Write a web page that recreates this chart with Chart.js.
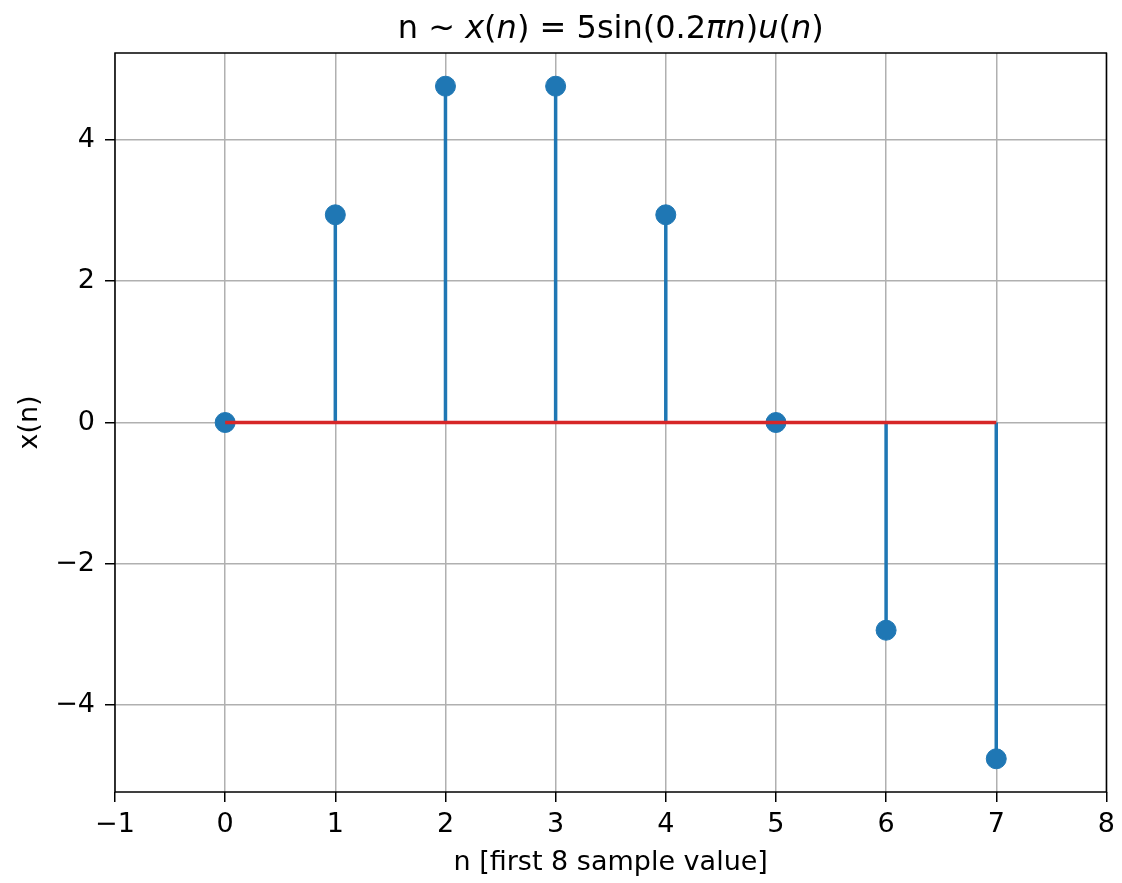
<!DOCTYPE html>
<html>
<head>
<meta charset="utf-8">
<script src="https://cdn.jsdelivr.net/npm/chart.js@4/dist/chart.umd.min.js"></script>
<style>
  html, body { margin: 0; padding: 0; background: #fff; }
  #wrap { width: 1122px; height: 883px; }
</style>
</head>
<body>
<div id="wrap"><canvas id="stemChart" width="1122" height="883"></canvas></div>
<script>
// samples of x(n) = 5 sin(0.2 pi n) u(n)
const nValues = [0, 1, 2, 3, 4, 5, 6, 7];
const xValues = [0, 2.94, 4.76, 4.76, 2.94, 0, -2.94, -4.76];
const yTicks = [-4, -2, 0, 2, 4];
const xRange = [-1, 8];
const yRange = [-5.23, 5.23];

const BLUE = '#1f77b4';
const RED = '#d62728';
const FONT = 'DejaVu Sans';
const TICK_SIZE = 27;

// stems: (n,0) -> (n,v), separated by gaps
const stemPoints = [];
nValues.forEach((n, i) => {
  stemPoints.push({ x: n, y: 0 }, { x: n, y: xValues[i] }, { x: n, y: null });
});
const markerPoints = nValues.map((n, i) => ({ x: n, y: xValues[i] }));
const basePoints = [{ x: nValues[0], y: 0 }, { x: nValues[nValues.length - 1], y: 0 }];

const minus = v => String(v).replace('-', '\u2212');

// title with mathtext-like italics + full frame
const framePlugin = {
  id: 'frame',
  afterDraw(chart) {
    const { ctx, chartArea: a } = chart;
    ctx.save();
    ctx.strokeStyle = '#000';
    ctx.lineWidth = 1.5;
    ctx.strokeRect(a.left, a.top, a.right - a.left, a.bottom - a.top);

    const parts = [
      ['n ~ ', false], ['x', true], ['(', false], ['n', true], [')', false],
      [' = 5sin(0.2', false], ['\u03c0n', true], [')', false], ['u', true],
      ['(', false], ['n', true], [')', false]
    ];
    const size = 32;
    const fontOf = it => (it ? 'oblique ' : '') + size + 'px "' + FONT + '"';
    let total = 0;
    parts.forEach(([t, it]) => { ctx.font = fontOf(it); total += ctx.measureText(t).width; });
    let x = (a.left + a.right) / 2 - total / 2;
    ctx.fillStyle = '#000';
    ctx.textBaseline = 'alphabetic';
    ctx.textAlign = 'left';
    parts.forEach(([t, it]) => {
      ctx.font = fontOf(it);
      ctx.fillText(t, x, 38);
      x += ctx.measureText(t).width;
    });
    ctx.restore();
  }
};

new Chart(document.getElementById('stemChart'), {
  type: 'scatter',
  data: {
    datasets: [
      {
        type: 'line',
        data: basePoints,
        borderColor: RED,
        borderWidth: 3.5,
        pointRadius: 0,
        order: 0
      },
      {
        data: markerPoints,
        backgroundColor: BLUE,
        borderColor: BLUE,
        pointRadius: 10,
        pointHoverRadius: 10,
        order: 1
      },
      {
        type: 'line',
        data: stemPoints,
        borderColor: BLUE,
        borderWidth: 3.5,
        pointRadius: 0,
        spanGaps: false,
        order: 2
      }
    ]
  },
  options: {
    responsive: false,
    animation: false,
    layout: { padding: { top: 53, right: 15, left: 0, bottom: 0 } },
    plugins: {
      legend: { display: false },
      tooltip: { enabled: false }
    },
    scales: {
      x: {
        type: 'linear',
        min: xRange[0],
        max: xRange[1],
        ticks: {
          stepSize: 1,
          color: '#000',
          font: { family: FONT, size: TICK_SIZE },
          padding: 7,
          callback: minus
        },
        grid: { color: '#b0b0b0', lineWidth: 1.5, tickColor: '#000', tickLength: 10 },
        border: { display: false },
        title: {
          display: true,
          text: 'n [first 8 sample value]',
          color: '#000',
          font: { family: FONT, size: TICK_SIZE },
          padding: { top: 1 }
        },
        afterFit(scale) { scale.height = 91; }
      },
      y: {
        min: yRange[0],
        max: yRange[1],
        afterBuildTicks(scale) { scale.ticks = yTicks.map(v => ({ value: v })); },
        ticks: {
          color: '#000',
          font: { family: FONT, size: TICK_SIZE },
          padding: 10,
          callback: minus
        },
        grid: { color: '#b0b0b0', lineWidth: 1.5, tickColor: '#000', tickLength: 10 },
        border: { display: false },
        title: {
          display: true,
          text: 'x(n)',
          color: '#000',
          font: { family: FONT, size: TICK_SIZE },
          padding: { top: 14 }
        },
        afterFit(scale) { scale.width = 115; }
      }
    }
  },
  plugins: [framePlugin]
});
</script>
</body>
</html>
